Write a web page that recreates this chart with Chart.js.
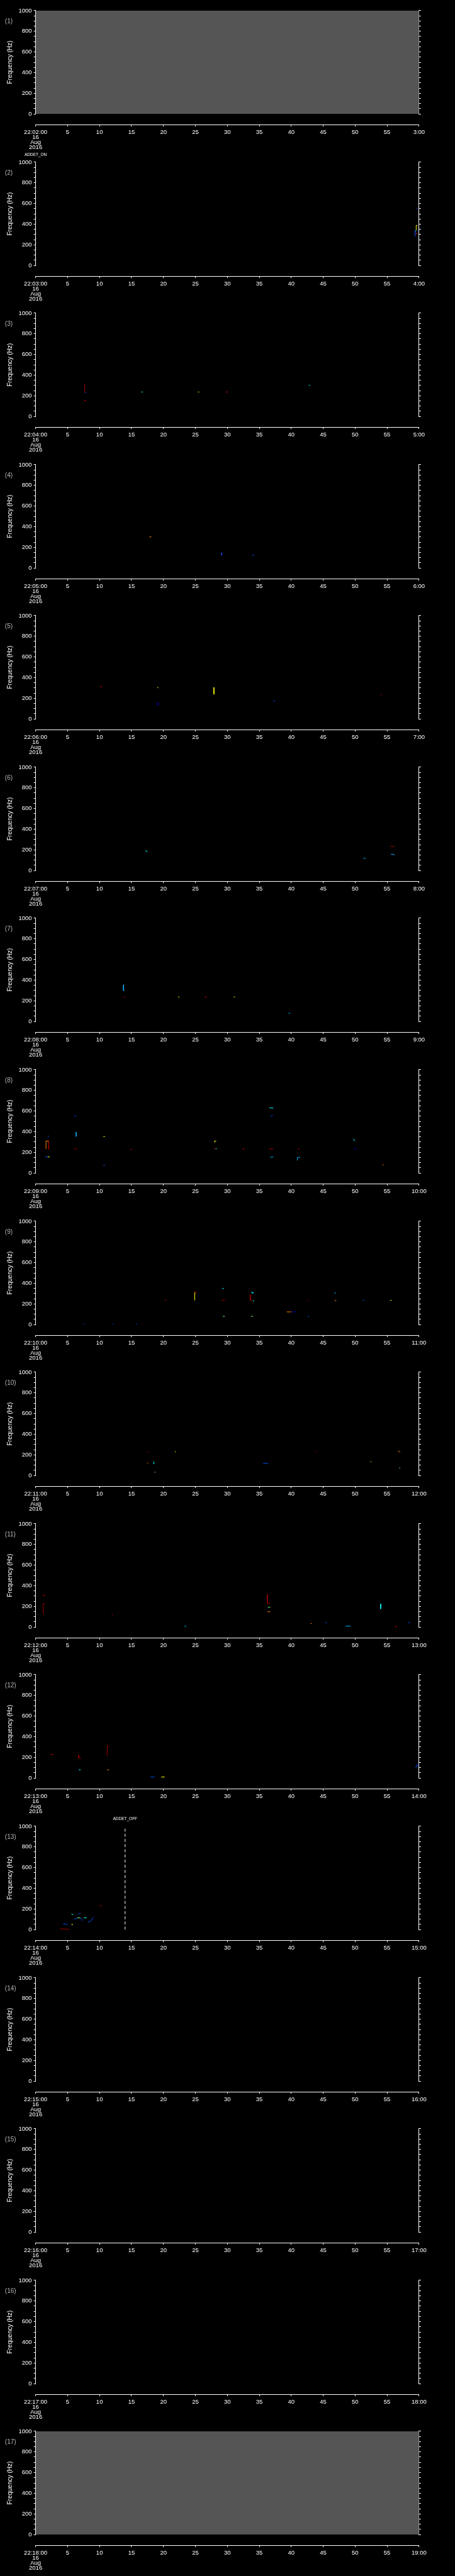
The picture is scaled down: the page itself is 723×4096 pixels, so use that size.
<!DOCTYPE html>
<html>
<head>
<meta charset="utf-8">
<script src="https://cdn.jsdelivr.net/npm/chart.js@4.4.1/dist/chart.umd.min.js"></script>
<style>
  html, body { margin: 0; padding: 0; background: #000; }
  #page { position: relative; width: 723px; height: 4096px; overflow: hidden; background: #000; }
  .box { position: absolute; left: 0; width: 723px; }
</style>
</head>
<body>
<div id="page"></div>
<script>
/* ============================================================
   ADDET SPECTROGRAM STACK — 17 one-minute panels
   ============================================================ */

// ---- data ---------------------------------------------------
const startLabels = ['22:02:00', '22:03:00', '22:04:00', '22:05:00', '22:06:00', '22:07:00',
  '22:08:00', '22:09:00', '22:10:00', '22:11:00', '22:12:00', '22:13:00', '22:14:00',
  '22:15:00', '22:16:00', '22:17:00', '22:18:00'];
const endLabels = ['3:00', '4:00', '5:00', '6:00', '7:00', '8:00', '9:00', '10:00', '11:00',
  '12:00', '13:00', '14:00', '15:00', '16:00', '17:00', '18:00', '19:00'];
const dateLines = ['16', 'Aug', '2016'];

const freqMin = 0, freqMax = 1000, freqMinorStep = 50, freqMajorStep = 200;
const secMin = 0, secMax = 60, secStep = 5;

const noDataPanels = [1, 17];
const eventPanels = [2, 13];
const eventSeconds = [0, 14];
const eventNames = ['ADDET_ON', 'ADDET_OFF'];

// each mark: [intensity level 0..8, t1, f1, t2, f2, ...]  (seconds, Hz)
const marks2 = [
  [1, 59.37, 338, 59.37, 284],
  [7, 59.37, 309, 59.73, 309],
  [3, 59.4, 330, 59.55, 341],
  [5, 59.55, 341, 59.55, 388, 59.73, 388],
  [1, 59.6, 553, 59.75, 553],
];
const marks3 = [
  [8, 7.67, 315, 7.67, 232],
  [1, 7.7, 232, 7.9, 232],
  [7, 7.6, 155, 7.85, 155],
  [3, 16.55, 237, 16.8, 237],
  [5, 25.4, 237, 25.6, 237],
  [7, 29.8, 237, 30.05, 237],
  [3, 42.75, 301, 42.95, 301],
];
const marks4 = [
  [6, 17.8, 299, 18.1, 303],
  [1, 29.15, 146, 29.1, 125],
  [7, 29.05, 135, 29.1, 125],
  [1, 33.9, 123, 34.2, 123],
];
const marks5 = [
  [7, 10.1, 316, 10.35, 310],
  [5, 19.1, 310, 19.15, 298],
  [0, 19.15, 157, 19.15, 133],
  [5, 27.9, 306, 27.9, 238],
  [1, 37.2, 174, 37.45, 174],
  [8, 54.0, 230, 54.2, 236],
];
const marks6 = [
  [3, 17.2, 198, 17.35, 184, 17.5, 182],
  [8, 55.5, 234, 56.2, 234],
  [2, 55.6, 157, 56.0, 157, 56.2, 150],
  [2, 51.3, 118, 51.65, 118],
];
const marks7 = [
  [2, 13.75, 355, 13.75, 299, 13.9, 299],
  [8, 13.8, 237, 14.05, 237],
  [5, 22.3, 237, 22.5, 237],
  [7, 26.5, 237, 26.75, 237],
  [5, 31.0, 239, 31.2, 236],
  [2, 39.6, 80, 39.85, 80],
];
const marks8 = [
  [1, 1.9, 358, 2.1, 355],
  [6, 1.62, 232, 1.62, 310, 2.04, 310],
  [8, 2.04, 310, 2.04, 232, 2.25, 232],
  [1, 1.54, 156, 1.9, 156],
  [5, 1.9, 156, 2.2, 156],
  [1, 6.05, 551, 6.3, 551],
  [2, 6.2, 392, 6.36, 392, 6.36, 353],
  [8, 6.0, 233, 6.45, 233],
  [5, 10.6, 353, 10.85, 353],
  [1, 10.6, 74, 10.85, 74],
  [8, 14.8, 229, 15.1, 229],
  [5, 28.0, 296, 28.0, 310, 28.25, 310],
  [8, 27.9, 234, 28.15, 234],
  [3, 28.15, 234, 28.35, 234],
  [7, 32.4, 233, 32.65, 233],
  [8, 36.5, 233, 37.2, 233],
  [3, 36.6, 632, 37.2, 628],
  [1, 36.8, 551, 37.1, 561],
  [2, 36.7, 156, 36.9, 152, 37.2, 156],
  [8, 41.0, 233, 41.3, 233],
  [2, 40.96, 122, 40.96, 152, 41.4, 152],
  [3, 49.7, 332, 49.85, 318, 50.0, 310],
  [0, 49.8, 233, 50.2, 233],
  [6, 54.25, 79, 54.45, 79],
];
const marks9 = [
  [1, 7.4, 2, 7.6, 2],
  [1, 12.0, 2, 12.2, 2],
  [1, 15.7, 2, 15.9, 2],
  [8, 20.2, 235, 20.5, 235],
  [5, 24.9, 235, 24.9, 312],
  [7, 24.9, 312, 25.2, 312],
  [3, 29.2, 350, 29.45, 350],
  [8, 29.1, 235, 29.6, 235],
  [4, 29.3, 80, 29.6, 80],
  [8, 33.6, 290, 33.6, 235, 33.9, 235],
  [3, 34.0, 229, 34.2, 229],
  [3, 33.7, 312, 33.95, 312, 34.0, 301],
  [4, 33.7, 80, 34.0, 80],
  [6, 39.3, 123, 40.0, 123],
  [0, 40.0, 123, 40.7, 123],
  [8, 42.6, 236, 42.65, 230],
  [1, 42.6, 77, 42.8, 77],
  [2, 46.8, 298, 46.95, 312],
  [6, 46.8, 235, 47.05, 230],
  [1, 51.2, 235, 51.4, 235],
  [5, 55.5, 235, 55.7, 235],
];
const marks10 = [
  [8, 17.5, 228, 17.7, 234],
  [5, 21.8, 229, 21.95, 229],
  [6, 17.45, 122, 17.6, 122],
  [3, 18.5, 131, 18.5, 112],
  [4, 18.6, 32, 18.75, 32],
  [1, 35.6, 117, 36.4, 117],
  [8, 43.7, 234, 43.9, 234],
  [6, 56.7, 238, 56.9, 232, 57.05, 227],
  [5, 52.4, 139, 52.5, 131],
  [4, 56.9, 72, 57.05, 77],
];
const marks11 = [
  [7, 1.2, 307, 1.5, 307],
  [8, 1.2, 126, 1.2, 226, 1.5, 226],
  [8, 11.9, 128, 12.1, 114],
  [2, 23.3, 8, 23.6, 8],
  [8, 36.26, 317, 36.26, 230, 36.7, 230],
  [4, 36.35, 193, 36.7, 193],
  [6, 36.3, 149, 36.7, 149],
  [6, 43.0, 34, 43.2, 34],
  [1, 45.3, 43, 45.55, 43],
  [2, 48.5, 8, 49.3, 11],
  [3, 54.0, 226, 54.0, 176],
  [7, 56.3, 5, 56.6, 1],
  [1, 58.3, 43, 58.6, 43],
];
const marks12 = [
  [8, 2.3, 229, 2.8, 229],
  [8, 6.75, 224, 6.75, 195, 7.1, 192],
  [3, 6.75, 80, 7.05, 80],
  [8, 11.2, 218, 11.2, 310, 11.5, 310],
  [6, 11.2, 80, 11.5, 80],
  [1, 18.0, 10, 18.6, 10],
  [5, 19.65, 10, 20.2, 10],
  [1, 59.5, 96, 59.6, 122, 60, 131],
];
const marks13 = [
  [8, 3.8, 7, 4.3, 7, 5.25, 3],
  [1, 4.3, 57, 4.7, 53, 5.0, 49],
  [5, 5.6, 49, 5.85, 49],
  [3, 5.6, 149, 5.9, 144],
  [1, 6.6, 143, 6.8, 155, 7.0, 157],
  [1, 6.0, 100, 6.5, 110],
  [4, 6.5, 114, 7.0, 114],
  [1, 7.0, 114, 7.35, 86],
  [3, 7.5, 114, 8.0, 114],
  [1, 8.2, 72, 8.6, 82, 9.0, 114, 9.1, 120],
  [8, 10.0, 235, 10.35, 226],
];
const panelMarks = [[], marks2, marks3, marks4, marks5, marks6, marks7, marks8, marks9,
  marks10, marks11, marks12, marks13, [], [], [], []];

// ---- styling ------------------------------------------------
const levelColors = ['#0000b4', '#0050ff', '#00b4ff', '#00ffff', '#80ff80',
  '#ffff00', '#ff8000', '#ff0000', '#a00000'];
const FONT = '"Liberation Sans", Arial, sans-serif';
const S = 0.705;
const PITCH = 341.25 * S;
const PLOT_LEFT = 80.3 * S;
const PLOT_RIGHT_GAP = 723 - 944.5 * S;
const A_HEIGHT = 190;
const B_TOP = 188, B_HEIGHT = 53;

const panelText = {
  id: 'panelText',
  afterDraw(chart, args, opts) {
    const { ctx } = chart;
    ctx.save();
    ctx.textBaseline = 'middle';
    ctx.fillStyle = '#b4b4b4';
    ctx.font = '10px ' + FONT;
    ctx.textAlign = 'left';
    ctx.fillText('(' + opts.index + ')', 7.8, 33.8);
    ctx.fillStyle = '#ffffff';
    ctx.font = '6.5px ' + FONT;
    ctx.textAlign = 'center';
    (opts.events || []).forEach(ev => {
      ctx.fillText(ev.name, chart.scales.x.getPixelForValue(ev.t), 5);
    });
    ctx.restore();
  }
};

function markDatasets(marks) {
  return marks.map(m => {
    const pts = [];
    for (let i = 1; i < m.length; i += 2) pts.push({ x: m[i], y: m[i + 1] });
    return { data: pts, borderColor: levelColors[m[0]], borderWidth: 1,
      pointRadius: 0, fill: false, tension: 0 };
  });
}

function makeCanvas(top, height) {
  const div = document.createElement('div');
  div.className = 'box';
  div.style.top = top + 'px';
  div.style.height = height + 'px';
  const c = document.createElement('canvas');
  c.width = 723;
  c.height = height;
  c.style.width = '723px';
  c.style.height = height + 'px';
  div.appendChild(c);
  document.getElementById('page').appendChild(div);
  return c;
}

function renderPanel(k) {
  const top = Math.round((k - 1) * PITCH);
  const datasets = [];

  if (noDataPanels.includes(k)) {
    datasets.push({ data: [{ x: secMin, y: freqMax }, { x: secMax, y: freqMax }],
      fill: 'origin', backgroundColor: '#555555', borderWidth: 0, pointRadius: 0 });
  }
  datasets.push(...markDatasets(panelMarks[k - 1]));

  const events = [];
  eventPanels.forEach((p, i) => {
    if (p !== k) return;
    events.push({ t: eventSeconds[i], name: eventNames[i] });
    datasets.push({ data: [{ x: eventSeconds[i], y: freqMin }, { x: eventSeconds[i], y: freqMax }],
      borderColor: '#ffffff', borderWidth: 1, borderDash: [4.7, 3.5], pointRadius: 0, fill: false });
  });

  const tickFont = { family: FONT, size: 9.5 };

  new Chart(makeCanvas(top, A_HEIGHT), {
    type: 'line',
    data: { datasets },
    options: {
      responsive: false,
      animation: false,
      events: [],
      layout: { padding: { top: 24 * S, bottom: A_HEIGHT - 257 * S, left: 0, right: 0 } },
      plugins: { legend: { display: false }, tooltip: { enabled: false }, panelText: { index: k, events } },
      scales: {
        x: { type: 'linear', display: false, min: secMin, max: secMax },
        y: {
          type: 'linear', position: 'left', min: freqMin, max: freqMax, z: 1,
          afterFit: s => { s.width = PLOT_LEFT; },
          border: { color: '#ffffff', width: 1 },
          grid: { drawOnChartArea: false, color: '#ffffff', tickLength: 3 },
          ticks: { stepSize: freqMinorStep, autoSkip: false, color: '#ffffff', font: tickFont, padding: 3,
            callback: v => (v % freqMajorStep === 0 ? String(v) : '') },
          title: { display: true, text: 'Frequency (Hz)', color: '#ffffff',
            font: { family: FONT, size: 10 }, padding: { top: 10.2, bottom: 0 } },
        },
        y2: {
          type: 'linear', position: 'right', min: freqMin, max: freqMax, z: 1,
          afterFit: s => { s.width = PLOT_RIGHT_GAP; },
          border: { color: '#ffffff', width: 1 },
          grid: { drawOnChartArea: false, color: '#ffffff', tickLength: 3 },
          ticks: { stepSize: freqMinorStep, display: false },
        },
      },
    },
    plugins: [panelText],
  });

  new Chart(makeCanvas(top + B_TOP, B_HEIGHT), {
    type: 'line',
    data: { datasets: [] },
    options: {
      responsive: false,
      animation: false,
      events: [],
      layout: { padding: { top: 0, bottom: 0, left: PLOT_LEFT, right: PLOT_RIGHT_GAP } },
      plugins: { legend: { display: false }, tooltip: { enabled: false } },
      scales: {
        x: {
          type: 'linear', position: 'bottom', min: secMin, max: secMax,
          afterFit: s => { s.height = B_HEIGHT - (281 * S - B_TOP); },
          border: { color: '#ffffff', width: 1 },
          grid: { drawOnChartArea: false, color: '#ffffff', tickLength: 3 },
          ticks: {
            stepSize: secStep, autoSkip: false, maxRotation: 0, minRotation: 0,
            color: '#ffffff', font: { family: FONT, size: 9.5, lineHeight: 0.84 }, padding: 5,
            callback: v => {
              if (v === secMin) return [startLabels[k - 1], ...dateLines];
              if (v === secMax) return endLabels[k - 1];
              return String(v);
            },
          },
        },
        y: { display: false, min: freqMin, max: freqMax },
      },
    },
  });
}

for (let k = 1; k <= startLabels.length; k++) renderPanel(k);
</script>
</body>
</html>
